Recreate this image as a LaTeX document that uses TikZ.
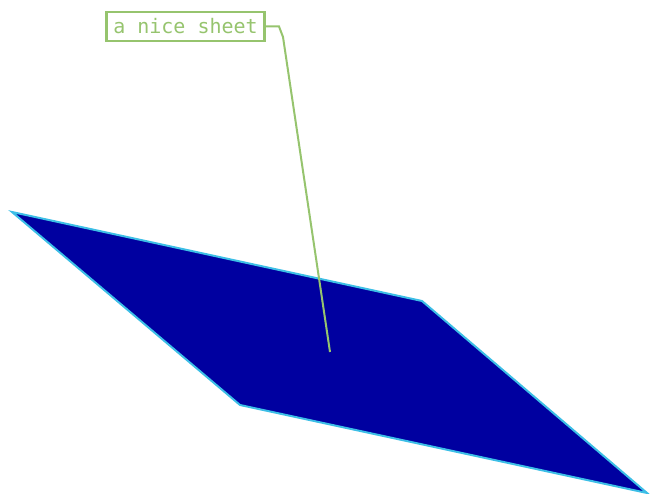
\documentclass[tikz,border=0pt]{standalone}
\usepackage{fontspec}
\newfontfamily\pixfont{DejaVu Sans Mono}
\definecolor{sheetfill}{RGB}{0,0,160}
\definecolor{sheetedge}{RGB}{60,190,230}
\definecolor{labelgreen}{RGB}{150,196,110}
\tikzset{
  sheet/.style={fill=sheetfill, draw=sheetedge, line width=2pt, line join=miter},
  labelbox/.style={draw=labelgreen, line width=2.5pt, text=labelgreen, font=\pixfont\fontsize{20}{22}\selectfont, inner sep=0pt, minimum width=158pt, minimum height=29pt},
  pin/.style={draw=labelgreen, line width=2pt}
}
\begin{document}
\begin{tikzpicture}[x=1pt,y=1pt]
\useasboundingbox (0,0) rectangle (658,494);
\coordinate (c1) at (12,{494-212});
\coordinate (c2) at (422,{494-301});
\coordinate (c3) at (647,{494-493});
\coordinate (c4) at (240,{494-405});
\draw[sheet] (c1) -- (c2) -- (c3) -- (c4) -- cycle;
\node[labelbox] (lbl) at (185.5,{494-26.5}) {a nice sheet};
\coordinate (k1) at (279,{494-26.5});
\coordinate (k2) at (283,{494-37});
\coordinate (tip) at (330,{494-352});
\draw[pin] (lbl.east) -- (k1) -- (k2) -- (tip);
\end{tikzpicture}
\end{document}
